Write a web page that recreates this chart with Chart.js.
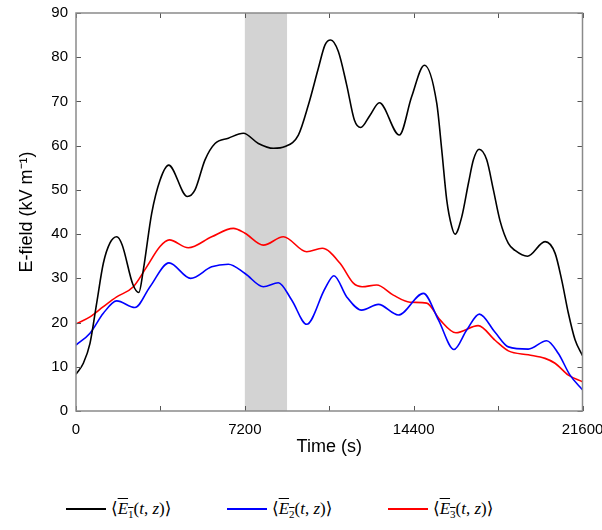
<!DOCTYPE html>
<html>
<head>
<meta charset="utf-8">
<script src="https://cdn.jsdelivr.net/npm/chart.js@4.4.1/dist/chart.umd.min.js"></script>
<style>
  html, body { margin: 0; padding: 0; background: #fff; }
  #wrap { position: relative; width: 602px; height: 530px; }
  #box { position: absolute; left: 0; top: 0; width: 602px; height: 470px; }
  #legend { position: absolute; left: 0; top: 497px; width: 602px; height: 24px;
            font-family: 'Liberation Serif', 'DejaVu Serif', serif; font-size: 17px; color: #000; }
  .item { position: absolute; top: 0; height: 24px; display: flex; align-items: center; white-space: nowrap; }
  .swatch { width: 40px; height: 2px; margin-right: 5px; }
  .bar { text-decoration: overline; text-decoration-thickness: 1px; }
  .item i { font-style: italic; }
  .item sub { font-size: 11px; font-style: normal; }
</style>
</head>
<body>
<div id="wrap">
  <div id="box"><canvas id="myChart"></canvas></div>
  <div id="legend"></div>
</div>
<script>
// valeurs (temps en s, champ en kV/m)
const e1Time = [0, 313, 597, 882, 1166, 1450, 1735, 1966, 2427, 2680, 2871, 3228, 3583, 3950, 4748, 5075, 5502, 5928, 6497, 7137, 7777, 8417, 8914, 9483, 9909, 10335, 10620, 10862, 11188, 11545, 11871, 12142, 12540, 12937, 13790, 14316, 14856, 15384, 15598, 15811, 16024, 16164, 16451, 16735, 16948, 17188, 17515, 17800, 18084, 18438, 18724, 19250, 20003, 20429, 20714, 20998, 21282, 21600];
const e1Field = [8.3, 10.8, 15.3, 24.4, 33.4, 38.0, 39.4, 37.6, 28.6, 26.8, 31.9, 44.7, 52.2, 55.6, 48.5, 50.0, 56.8, 60.5, 61.7, 62.8, 60.5, 59.4, 59.8, 62.4, 69.2, 77.5, 82.8, 83.9, 81.3, 73.7, 65.8, 64.1, 66.9, 69.7, 62.4, 71.1, 78.2, 69.6, 59.0, 47.7, 41.7, 40.0, 43.9, 51.5, 56.8, 59.2, 56.8, 50.0, 43.0, 37.9, 36.3, 35.0, 38.3, 35.7, 29.6, 22.1, 16.1, 12.5];

const e2Time = [0, 597, 1166, 1735, 2516, 3156, 3966, 4890, 5786, 6497, 7208, 7990, 8630, 9198, 9838, 10620, 11000, 11545, 12184, 12895, 13746, 14814, 15455, 16120, 16663, 17202, 17871, 18438, 19290, 20073, 20571, 21069, 21600];
const e2Field = [14.9, 17.6, 22.1, 24.9, 23.4, 28.1, 33.5, 30.0, 32.6, 33.2, 31.1, 28.1, 29.0, 25.1, 19.6, 27.7, 30.6, 25.8, 22.8, 24.1, 21.7, 26.6, 20.6, 13.9, 18.3, 21.9, 17.8, 14.5, 14.0, 15.9, 13.0, 8.1, 4.8];

const e3Time = [0, 597, 1166, 1735, 2445, 3015, 3583, 3980, 4790, 5786, 6710, 7208, 7990, 8843, 9838, 10500, 11260, 11829, 12200, 12824, 13533, 14245, 14957, 15525, 16200, 17150, 17871, 18438, 19290, 20003, 20429, 20998, 21600];
const e3Field = [19.7, 21.3, 23.6, 25.8, 28.1, 32.6, 37.2, 38.7, 36.9, 39.4, 41.3, 40.2, 37.5, 39.4, 36.0, 36.8, 33.4, 28.9, 28.1, 28.5, 26.2, 24.6, 24.4, 20.6, 17.7, 19.3, 16.0, 13.6, 12.7, 11.9, 10.8, 8.1, 6.6];

const seriesSubs = ['1', '2', '3'];
const seriesColors = ['#000000', '#0000ff', '#ff0000'];
const shadeSpan = [7200, 9000];
const xTickStep = 3600;
const xLabelStep = 7200;

const toPoints = (ts, vs) => ts.map((t, i) => ({ x: t, y: vs[i] }));

// bande grise
const shadePlugin = {
    id: 'shade',
    beforeDatasetsDraw(chart) {
        const { ctx, chartArea: a, scales: { x } } = chart;
        const x0 = x.getPixelForValue(shadeSpan[0]);
        const x1 = x.getPixelForValue(shadeSpan[1]);
        ctx.save();
        ctx.fillStyle = '#d3d3d3';
        ctx.fillRect(x0, a.top, x1 - x0, a.bottom - a.top);
        ctx.restore();
    }
};

// cadre + graduations vers l'intérieur
const framePlugin = {
    id: 'frame',
    afterDatasetsDraw(chart) {
        const { ctx, chartArea: a, scales: { x, y } } = chart;
        ctx.save();
        ctx.strokeStyle = '#555';
        ctx.lineWidth = 1;
        ctx.beginPath();
        x.ticks.forEach(t => {
            const px = Math.round(x.getPixelForValue(t.value)) + 0.5;
            ctx.moveTo(px, a.bottom); ctx.lineTo(px, a.bottom - 5);
            ctx.moveTo(px, a.top); ctx.lineTo(px, a.top + 5);
        });
        y.ticks.forEach(t => {
            const py = Math.round(y.getPixelForValue(t.value)) + 0.5;
            ctx.moveTo(a.left, py); ctx.lineTo(a.left + 5, py);
            ctx.moveTo(a.right, py); ctx.lineTo(a.right - 5, py);
        });
        ctx.stroke();
        ctx.strokeStyle = '#8a8a8a';
        ctx.lineWidth = 1.5;
        ctx.strokeRect(a.left, a.top, a.right - a.left, a.bottom - a.top);
        ctx.restore();
    }
};

const ctx = document.getElementById('myChart').getContext('2d');

const myChart = new Chart(ctx, {
    type: 'line',
    data: {
        datasets: [
            { label: 'E1', data: toPoints(e1Time, e1Field), borderColor: seriesColors[0] },
            { label: 'E2', data: toPoints(e2Time, e2Field), borderColor: seriesColors[1] },
            { label: 'E3', data: toPoints(e3Time, e3Field), borderColor: seriesColors[2] }
        ]
    },
    options: {
        responsive: true,
        maintainAspectRatio: false,
        animation: false,
        layout: { padding: { left: 0, top: 13, right: 19.5, bottom: 0 } },
        elements: {
            line: { borderWidth: 1.6, cubicInterpolationMode: 'monotone', fill: false },
            point: { radius: 0 }
        },
        plugins: {
            legend: { display: false },
            tooltip: { enabled: false }
        },
        scales: {
            x: {
                type: 'linear',
                min: 0,
                max: 21600,
                grid: { display: false, drawTicks: false },
                border: { display: false },
                ticks: {
                    stepSize: xTickStep,
                    autoSkip: false,
                    maxRotation: 0,
                    padding: 10,
                    color: '#000',
                    font: { family: "'Liberation Sans', Arial, sans-serif", size: 15 },
                    callback: (v) => v % xLabelStep === 0 ? String(v) : ''
                },
                title: {
                    display: true,
                    text: 'Time (s)',
                    color: '#000',
                    padding: { top: 0, bottom: 12 },
                    font: { family: "'Liberation Sans', Arial, sans-serif", size: 18 }
                },
                afterFit: (s) => { s.height = 59; s.paddingLeft = 0; s.paddingRight = 0; }
            },
            y: {
                min: 0,
                max: 90,
                grid: { display: false, drawTicks: false },
                border: { display: false },
                ticks: {
                    stepSize: 10,
                    padding: 8,
                    color: '#000',
                    font: { family: "'Liberation Sans', Arial, sans-serif", size: 15 }
                },
                title: {
                    display: true,
                    text: 'E-field (kV m⁻¹)',
                    color: '#000',
                    padding: { top: 16, bottom: 0 },
                    font: { family: "'Liberation Sans', Arial, sans-serif", size: 18 }
                },
                afterFit: (s) => { s.width = 76; s.paddingTop = 0; s.paddingBottom = 0; }
            }
        }
    },
    plugins: [shadePlugin, framePlugin]
});

// légende en bas (texte HTML)
const legendLeft = [66, 227, 388];
const legendEl = document.getElementById('legend');
myChart.data.datasets.forEach((ds, i) => {
    const item = document.createElement('div');
    item.className = 'item';
    item.style.left = legendLeft[i] + 'px';
    item.innerHTML = '<span class="swatch" style="background:' + ds.borderColor + '"></span>' +
        '<span>⟨<span class="bar"><i>E</i><sub>' + seriesSubs[i] + '</sub></span>(<i>t</i>, <i>z</i>)⟩</span>';
    legendEl.appendChild(item);
});
</script>
</body>
</html>
